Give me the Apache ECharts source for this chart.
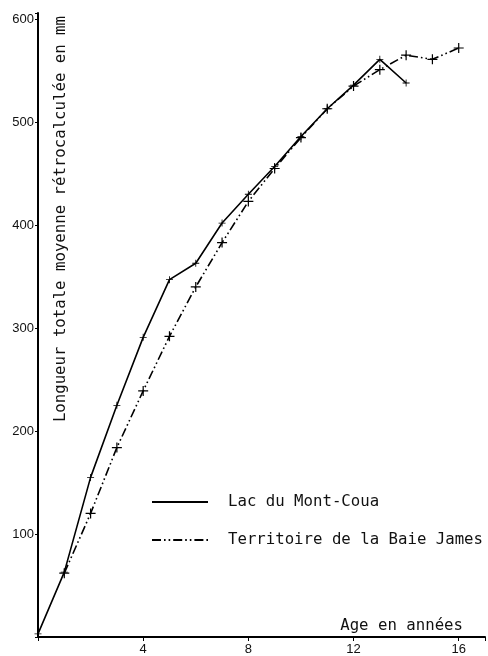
<!DOCTYPE html>
<html>
<head>
<meta charset="utf-8">
<script src="https://cdn.jsdelivr.net/npm/echarts@6/dist/echarts.min.js"></script>
<style>
  html, body { margin: 0; padding: 0; background: #fff; }
  #chart { width: 488px; height: 656px; }
</style>
</head>
<body>
<div id="chart"></div>
<script>
// ages (years) and back-calculated mean total length (mm)
var lacAges = [0, 1, 2, 3, 4, 5, 6, 7, 8, 9, 10, 11, 12, 13, 14];
var lacValues = [3, 63, 155, 225, 291, 347, 363, 402, 430, 457, 486, 513, 536, 561, 538];
var baieAges = [1, 2, 3, 4, 5, 6, 7, 8, 9, 10, 11, 12, 13, 14, 15, 16];
var baieValues = [62, 120, 184, 239, 292, 340, 383, 423, 455, 485, 513, 535, 551, 565, 561, 572];
var seriesNames = ['Lac du Mont-Coua', 'Territoire de la Baie James'];
var xTickLabels = [4, 8, 12, 16];
var yTickLabels = [100, 200, 300, 400, 500, 600];

function pairs(xs, ys) {
    var out = [];
    for (var i = 0; i < xs.length; i++) out.push([xs[i], ys[i]]);
    return out;
}

var mono = '"DejaVu Sans Mono", monospace';
var plus = 'path://M0,4.4h10v1.2h-10z M4.4,0h1.2v10h-1.2z';

var myChart = echarts.init(document.getElementById('chart'));
var option = {
    animation: false,
    backgroundColor: '#fff',
    grid: { left: 38, right: 3, top: 13, bottom: 18 },
    legend: {
        orient: 'vertical',
        left: 151,
        top: 494,
        padding: 0,
        itemWidth: 56,
        itemHeight: 12,
        itemGap: 22,
        itemStyle: { opacity: 0 },
        textStyle: { fontFamily: mono, fontSize: 15.7, color: '#111', padding: [0, 0, 0, 15] },
        data: seriesNames
    },
    xAxis: {
        type: 'value',
        min: 0,
        max: 17,
        interval: 4,
        splitLine: { show: false },
        axisLine: { lineStyle: { color: '#000', width: 2 } },
        axisTick: { length: 4, lineStyle: { color: '#000' } },
        axisLabel: {
            color: '#111', fontFamily: 'Liberation Sans, Arial', fontSize: 13, margin: 6,
            formatter: function (v) { return xTickLabels.indexOf(v) >= 0 ? v : ''; }
        }
    },
    yAxis: {
        type: 'value',
        min: 0,
        max: 606,
        interval: 100,
        splitLine: { show: false },
        axisLine: { lineStyle: { color: '#000', width: 2 } },
        axisTick: { length: 3, lineStyle: { color: '#000' } },
        axisLabel: {
            color: '#111', fontFamily: 'Liberation Sans, Arial', fontSize: 13, margin: 4,
            padding: [0, 0, 5, 0],
            formatter: function (v) { return yTickLabels.indexOf(v) >= 0 ? v : ''; }
        }
    },
    graphic: [
        {
            type: 'text',
            x: 61, y: 16,
            rotation: Math.PI / 2,
            style: {
                text: 'Longueur totale moyenne rétrocalculée en mm',
                font: '15.7px ' + mono,
                fill: '#111',
                align: 'right',
                verticalAlign: 'middle'
            }
        },
        {
            type: 'text',
            x: 463, y: 626,
            style: {
                text: 'Age en années',
                font: '15.7px ' + mono,
                fill: '#111',
                align: 'right',
                verticalAlign: 'middle'
            }
        }
    ],
    series: [
        {
            name: seriesNames[0],
            type: 'line',
            data: pairs(lacAges, lacValues),
            symbol: plus,
            symbolSize: 7,
            showSymbol: true,
            itemStyle: { color: '#000' },
            lineStyle: { color: '#000', width: 1.6, type: 'solid' }
        },
        {
            name: seriesNames[1],
            type: 'line',
            data: pairs(baieAges, baieValues),
            symbol: plus,
            symbolSize: 10,
            showSymbol: true,
            itemStyle: { color: '#000' },
            lineStyle: { color: '#000', width: 1.6, type: [9, 3, 1.6, 3, 1.6, 3] }
        }
    ]
};
myChart.setOption(option);
</script>
</body>
</html>
